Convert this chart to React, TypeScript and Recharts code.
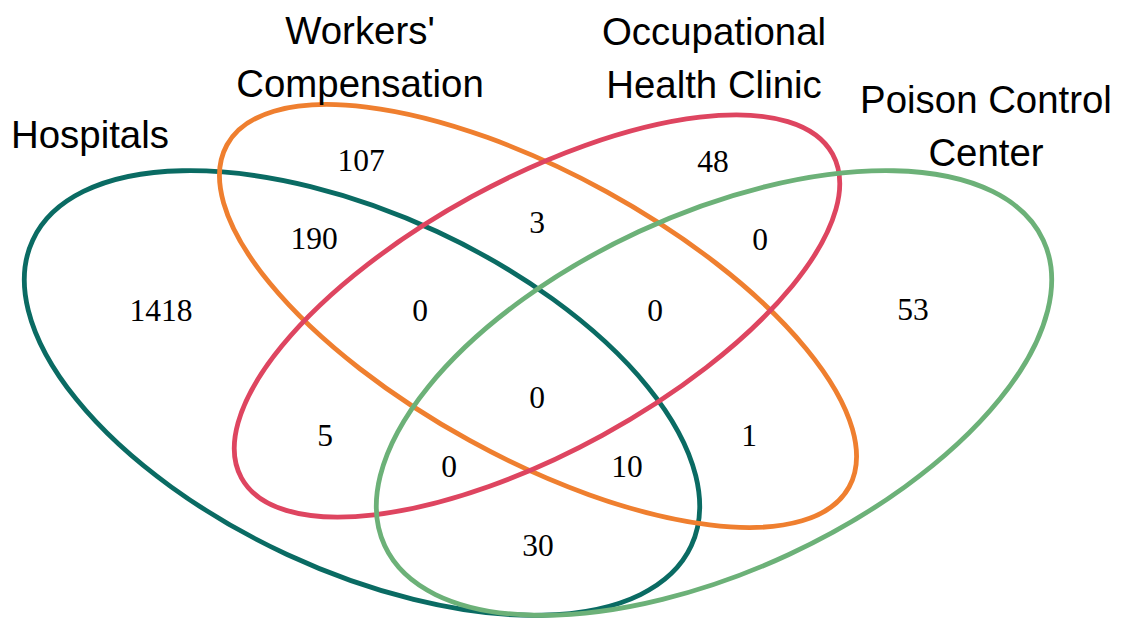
import React from 'react';
import { ScatterChart, Scatter, XAxis, YAxis } from 'recharts';

// set names (one entry per ellipse)
const sets = ['Hospitals', "Workers' Compensation", 'Occupational Health Clinic', 'Poison Control Center'];
const setLines = [['Hospitals'], ["Workers'", 'Compensation'], ['Occupational', 'Health Clinic'], ['Poison Control', 'Center']];

// region counts
const regionKeys = [
  'H', 'W', 'O', 'P',
  'HW', 'WO', 'OP', 'HO', 'WP', 'HP',
  'HWO', 'WOP', 'HOP', 'HWP',
  'HWOP',
];
const regionCounts = [1418, 107, 48, 53, 190, 3, 0, 5, 1, 30, 0, 0, 0, 10, 0];

// layout in chart units (axes are 1 unit = 1 px)
const ellipseLayout = [
  { x: 362, y: 393, rx: 363, ry: 178, angle: 24.9 },
  { x: 538, y: 316, rx: 355, ry: 142, angle: 28.8 },
  { x: 537, y: 316, rx: 337, ry: 136, angle: -28.7 },
  { x: 714, y: 393, rx: 363, ry: 178, angle: -24.9 },
];
const regionPos: { [k: string]: [number, number] } = {
  H: [161, 310], W: [361, 160], O: [713, 161], P: [913, 309],
  HW: [314, 238], WO: [537, 222], OP: [760, 239], HO: [325, 435], WP: [749, 435], HP: [538, 545],
  HWO: [420, 310], WOP: [655, 310], HOP: [449, 466], HWP: [627, 466],
  HWOP: [537, 397],
};
const labelPos = [[90, 148], [360, 44], [714, 45], [986, 113]];

const COLORS = ['#0a6b63', '#ef7f2f', '#de4560', '#6cb178'];

const ellipseData = sets.map((name, i) => ({ name, ...ellipseLayout[i], idx: i }));
const countData = regionKeys.map((k, i) => ({ key: k, value: regionCounts[i], x: regionPos[k][0], y: regionPos[k][1] }));
const titleData = sets.map((name, i) => ({ name, lines: setLines[i], x: labelPos[i][0], y: labelPos[i][1] }));

const EllipseShape = (props: any) => {
  const { cx, cy, payload } = props;
  return (
    <ellipse
      cx={cx}
      cy={cy}
      rx={payload.rx}
      ry={payload.ry}
      transform={`rotate(${payload.angle} ${cx} ${cy})`}
      fill="none"
      stroke={COLORS[payload.idx]}
      strokeWidth={4.8}
    />
  );
};

const CountShape = (props: any) => {
  const { cx, cy, payload } = props;
  return (
    <text x={cx} y={cy} textAnchor="middle" dominantBaseline="central"
      fontFamily="'Liberation Serif', 'Times New Roman', serif" fontSize={31.5} fill="#000">
      {payload.value}
    </text>
  );
};

const TitleShape = (props: any) => {
  const { cx, cy, payload } = props;
  return (
    <text x={cx} y={cy} textAnchor="middle"
      fontFamily="'Liberation Sans', Arial, sans-serif" fontSize={38.4} fill="#000">
      {payload.lines.map((l: string, i: number) => (
        <tspan key={i} x={cx} dy={i === 0 ? 0 : 52.5}>{l}</tspan>
      ))}
    </text>
  );
};

export default function App() {
  return (
    <div style={{ position: 'absolute', left: 0, top: 0, background: '#fff' }}>
      <ScatterChart width={1122} height={620} margin={{ top: 0, right: 0, bottom: 0, left: 0 }}>
        <XAxis type="number" dataKey="x" domain={[0, 1122]} hide allowDataOverflow />
        <YAxis type="number" dataKey="y" domain={[0, 620]} reversed hide allowDataOverflow />
        {ellipseData.map(e => (
          <Scatter key={e.name} data={[e]} shape={EllipseShape} isAnimationActive={false} />
        ))}
        <Scatter data={countData} shape={CountShape} isAnimationActive={false} />
        <Scatter data={titleData} shape={TitleShape} isAnimationActive={false} />
      </ScatterChart>
    </div>
  );
}
